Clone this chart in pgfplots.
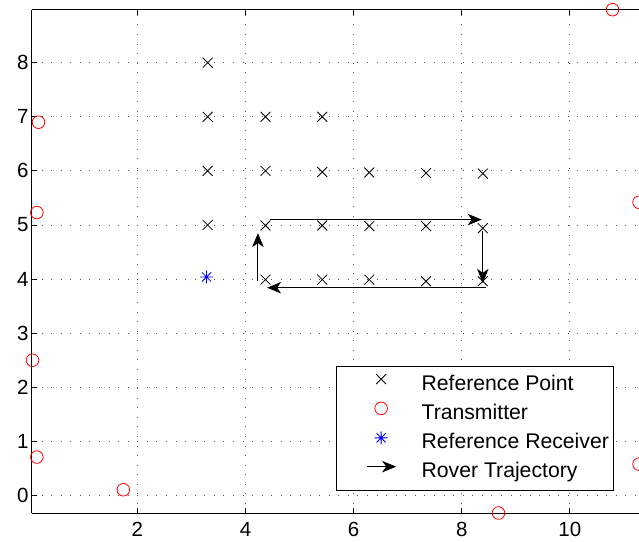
\documentclass[border=0pt]{standalone}
\usepackage{pgfplots}
\pgfplotsset{compat=1.18}
\usepackage{fontspec}
\setmainfont{Liberation Sans}
\usetikzlibrary{arrows.meta,plotmarks}
\pgfdeclareplotmark{mstar}{%
  \pgfpathmoveto{\pgfqpoint{-\pgfplotmarksize}{0pt}}\pgfpathlineto{\pgfqpoint{\pgfplotmarksize}{0pt}}%
  \pgfpathmoveto{\pgfqpoint{0pt}{-\pgfplotmarksize}}\pgfpathlineto{\pgfqpoint{0pt}{\pgfplotmarksize}}%
  \pgfpathmoveto{\pgfqpoint{-0.7071\pgfplotmarksize}{-0.7071\pgfplotmarksize}}\pgfpathlineto{\pgfqpoint{0.7071\pgfplotmarksize}{0.7071\pgfplotmarksize}}%
  \pgfpathmoveto{\pgfqpoint{-0.7071\pgfplotmarksize}{0.7071\pgfplotmarksize}}\pgfpathlineto{\pgfqpoint{0.7071\pgfplotmarksize}{-0.7071\pgfplotmarksize}}%
  \pgfusepathqstroke}
\pgfplotsset{arrowlegend/.style={legend image code/.code={\path[draw=none,-] (0pt,0pt) (55.7pt,0pt); \draw[##1] (26.7pt,5.5pt) -- (55.7pt,5.5pt);}}}
\tikzset{rover/.style={black, line width=0.9pt, -{Stealth[length=14pt,width=11.5pt,inset=4pt]}}}
\begin{document}
\begin{tikzpicture}
\begin{axis}[
  name=ax,
  scale only axis,
  width=607pt, height=503.6pt,
  xmin=0.05, xmax=11.28, ymin=-0.33, ymax=8.98,
  axis x line=box, axis y line*=left,
  axis line style={line width=1pt},
  xtick={2,4,6,8,10}, ytick={0,1,2,3,4,5,6,7,8},
  tick style={black, line width=0.8pt},
  major tick length=5pt,
  tick align=inside,
  grid=major,
  major grid style={black!65, line width=0.8pt, dash pattern=on 0.8pt off 8.77pt},
  tick label style={font=\fontsize{20.5}{24}\selectfont},
  xticklabel style={yshift=-5.5pt},
  /pgf/number format/assume math mode=true,
  legend cell align=left,
  legend style={at={(rel axis cs:0.9583,0.0445)}, anchor=south east,
    draw=black, line width=0.9pt, fill=white,
    font=\fontsize{21.2}{25}\selectfont,
    inner xsep=4.3pt, inner ysep=7.8pt,
    row sep=7pt, column sep=0pt,
    nodes={inner sep=0pt, text height=16pt, text depth=5pt}},
  /tikz/every odd column/.append style={column sep=25pt},
  legend image code/.code={%
    \path[draw=none,-] (0pt,0pt) (55.7pt,0pt);
    \draw[mark repeat=2,mark phase=2,#1] plot coordinates {(25.7pt,5.5pt) (40.7pt,5.5pt) (55.7pt,5.5pt)};},
]
\addplot[only marks, mark=x, mark size=7pt, black, line width=0.8pt] coordinates {
  (3.30,8.00)
  (3.30,7.00) (4.37,7.00) (5.42,7.00)
  (3.30,6.00) (4.37,6.00) (5.42,5.98) (6.29,5.97) (7.34,5.96) (8.39,5.95)
  (3.30,5.00) (4.37,4.99) (5.42,4.99) (6.29,4.98) (7.34,4.98) (8.39,4.94)
  (4.37,3.99) (5.42,3.99) (6.29,3.99) (7.34,3.96) (8.39,3.96)
};
\addlegendentry{Reference Point}
\addplot[only marks, mark=o, mark size=6.3pt, red, line width=0.8pt] coordinates {
  (0.17,6.90) (0.14,5.23) (0.06,2.50) (0.14,0.71) (1.74,0.105)
  (8.68,-0.325) (11.28,0.58) (11.28,5.42) (10.79,8.98)
};
\addlegendentry{Transmitter}
\addplot[only marks, mark=mstar, mark size=6.5pt, blue, line width=0.8pt] coordinates {(3.28,4.04)};
\addlegendentry{Reference Receiver}
\addplot[rover, arrowlegend]
  coordinates {(4.46,5.10) (8.37,5.10)};
\addlegendentry{Rover Trajectory}
\addplot[rover, forget plot]
  coordinates {(8.39,4.88) (8.39,3.93)};
\addplot[rover, forget plot]
  coordinates {(8.45,3.84) (4.40,3.84)};
\addplot[rover, forget plot]
  coordinates {(4.23,3.96) (4.23,4.85)};
\end{axis}
\pgfresetboundingbox
\path[use as bounding box] ([shift={(-32pt,-27.7pt)}]ax.south west) rectangle ([shift={(0pt,9.7pt)}]ax.north east);
\end{tikzpicture}
\end{document}
